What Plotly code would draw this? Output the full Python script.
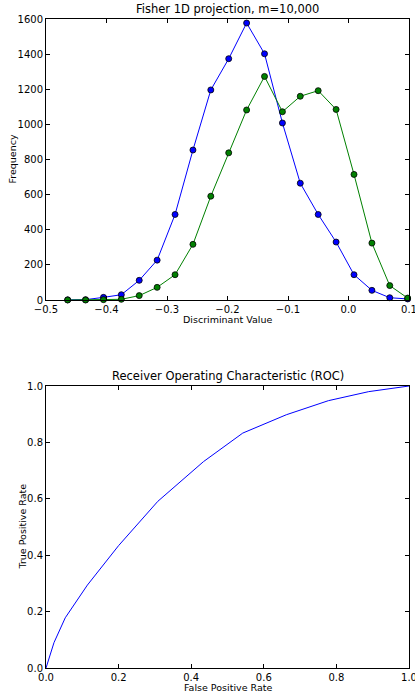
import plotly.graph_objects as go

# Histogram data (Fisher 1D projection)
bin_centers = [-0.4642, -0.4346, -0.4050, -0.3755, -0.3459, -0.3163, -0.2867, -0.2571,
               -0.2276, -0.1980, -0.1684, -0.1388, -0.1092, -0.0797, -0.0501, -0.0205,
               0.0091, 0.0387, 0.0682, 0.0978]
class_blue = [1, 2, 15, 30, 112, 227, 487, 854, 1196, 1374, 1577, 1402, 1008, 665, 487,
              330, 144, 55, 13, 6]
class_green = [0, 0, 2, 4, 25, 72, 144, 317, 591, 838, 1082, 1273, 1072, 1160, 1192,
               1085, 715, 324, 82, 11]

# ROC curve
fpr = [0.0, 0.022, 0.053, 0.114, 0.200, 0.308, 0.434, 0.542, 0.662, 0.778, 0.889, 1.0]
tpr = [0.0, 0.090, 0.178, 0.294, 0.434, 0.591, 0.732, 0.833, 0.898, 0.948, 0.980, 1.0]

top_title = "Fisher 1D projection, m=10,000"
bot_title = "Receiver Operating Characteristic (ROC)"
top_xlabel = "Discriminant Value"
top_ylabel = "Frequency"
bot_xlabel = "False Positive Rate"
bot_ylabel = "True Positive Rate"

W, H = 415, 693
ml, mr, mt, mb = 46, 6, 19, 25
ph = H - mt - mb
top_y0 = (668 - 300) / ph
bot_y1 = (668 - 386) / ph

fig = go.Figure()
fig.add_trace(go.Scatter(x=bin_centers, y=class_blue, mode="lines+markers",
                         line=dict(color="#0000ff", width=1),
                         marker=dict(color="#0000ff", size=6, line=dict(color="black", width=0.8)),
                         xaxis="x", yaxis="y", showlegend=False, cliponaxis=False))
fig.add_trace(go.Scatter(x=bin_centers, y=class_green, mode="lines+markers",
                         line=dict(color="#008000", width=1),
                         marker=dict(color="#008000", size=6, line=dict(color="black", width=0.8)),
                         xaxis="x", yaxis="y", showlegend=False, cliponaxis=False))
fig.add_trace(go.Scatter(x=fpr, y=tpr, mode="lines",
                         line=dict(color="#0000ff", width=1),
                         xaxis="x2", yaxis="y2", showlegend=False))

lab_font = dict(family="DejaVu Sans", size=9.5, color="black")
tickfont = dict(family="DejaVu Sans", size=10, color="black")
title_font = dict(family="DejaVu Sans", size=11.5, color="black")
axcommon = dict(showline=True, linecolor="black", linewidth=1, mirror="ticks",
                ticks="inside", ticklen=4, tickcolor="black", showgrid=False,
                zeroline=False, tickfont=tickfont, automargin=False,
                ticklabeloverflow="allow")

def ann(text, x, y, xshift=0, yshift=0, angle=0, font=lab_font, yanchor="middle"):
    return dict(text=text, x=x, y=y, xref="paper", yref="paper", xanchor="center",
                yanchor=yanchor, xshift=xshift, yshift=yshift, textangle=angle,
                showarrow=False, font=font)

fig.update_layout(
    width=W, height=H, margin=dict(l=ml, r=mr, t=mt, b=mb, autoexpand=False),
    paper_bgcolor="white", plot_bgcolor="white", font=lab_font,
    xaxis=dict(domain=[0, 1], anchor="y", range=[-0.5, 0.1],
               tickvals=[-0.5, -0.4, -0.3, -0.2, -0.1, 0.0, 0.1], tickformat=".1f", **axcommon),
    yaxis=dict(domain=[top_y0, 1], anchor="x", range=[0, 1600], dtick=200, **axcommon),
    xaxis2=dict(domain=[0, 1], anchor="y2", range=[0, 1], dtick=0.2, tickformat=".1f", **axcommon),
    yaxis2=dict(domain=[0, bot_y1], anchor="x2", range=[0, 1], dtick=0.2, tickformat=".1f", **axcommon),
    annotations=[
        ann(top_title, 0.5, 1, yshift=1, font=title_font, yanchor="bottom"),
        ann(bot_title, 0.5, bot_y1, yshift=1, font=title_font, yanchor="bottom"),
        ann(top_xlabel, 0.5, top_y0, yshift=-19),
        ann(bot_xlabel, 0.5, 0, yshift=-19),
        ann(top_ylabel, 0, (top_y0 + 1) / 2, xshift=12 - ml, angle=-90),
        ann(bot_ylabel, 0, bot_y1 / 2, xshift=21.5 - ml, angle=-90),
    ],
)

fig.write_html("out.html", config={"displayModeBar": False},
               post_script="document.body.style.margin='0';document.body.style.overflow='hidden';")
